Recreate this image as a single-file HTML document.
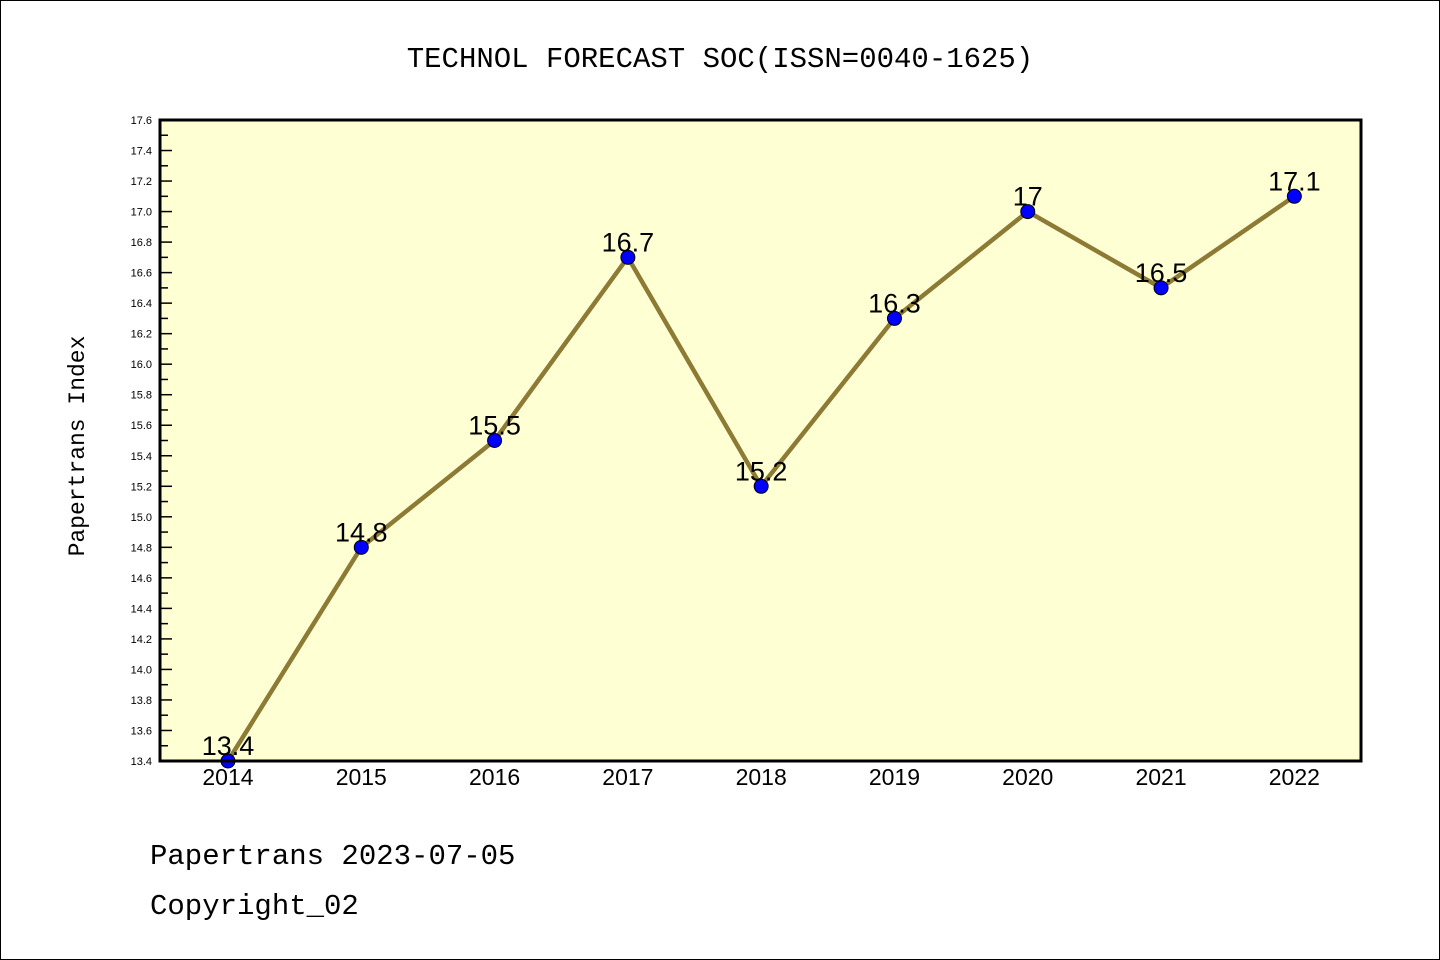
<!DOCTYPE html>
<html><head><meta charset="utf-8"><style>
html,body{margin:0;padding:0;background:#fff;}
svg{display:block;font-family:"Liberation Mono","DejaVu Sans Mono",monospace;}
</style></head><body>
<svg id="chart" width="1440" height="960" viewBox="0 0 1440 960" xmlns="http://www.w3.org/2000/svg">
<rect x="0.5" y="0.5" width="1439" height="959" fill="#fff" stroke="#000" stroke-width="1"/>
<text x="720" y="67" text-anchor="middle" font-size="29">TECHNOL FORECAST SOC(ISSN=0040-1625)</text>
<rect x="160" y="120" width="1201" height="641" fill="#ffffd4"/>
<g id="yaxis"></g>
<g id="xaxis"></g>
<g id="series"></g>
<rect x="160" y="120" width="1201" height="641" fill="none" stroke="#000" stroke-width="3"/>
<text transform="translate(84,446) rotate(-90)" text-anchor="middle" font-size="23">Papertrans Index</text>
<text x="150" y="864" font-size="29">Papertrans 2023-07-05</text>
<text x="150" y="914" font-size="29">Copyright_02</text>
</svg>
<script>
const years = [2014,2015,2016,2017,2018,2019,2020,2021,2022];
const values = [13.4,14.8,15.5,16.7,15.2,16.3,17.0,16.5,17.1];
const labels = ["13.4","14.8","15.5","16.7","15.2","16.3","17","16.5","17.1"];
const yTicks = [13.4,13.6,13.8,14.0,14.2,14.4,14.6,14.8,15.0,15.2,15.4,15.6,15.8,16.0,16.2,16.4,16.6,16.8,17.0,17.2,17.4,17.6];
const NS="http://www.w3.org/2000/svg";
const L=160,R=1361,T=120,B=761;
const xMin=2013.49,xMax=2022.5,yMin=13.4,yMax=17.6;
const xs=v=>L+(v-xMin)/(xMax-xMin)*(R-L);
const ys=v=>B-(v-yMin)/(yMax-yMin)*(B-T);
function mk(tag,attrs,parent){const e=document.createElementNS(NS,tag);for(const k in attrs)e.setAttribute(k,attrs[k]);parent.appendChild(e);return e;}
const ya=document.getElementById('yaxis'),xa=document.getElementById('xaxis'),sg=document.getElementById('series');
yTicks.forEach((t,i)=>{
  const y=ys(t);
  const tk=mk('line',{x1:L,x2:L+12,y1:y,y2:y,stroke:'#000','stroke-width':1.5},ya);
  
  
  if(i<yTicks.length-1){const ym=ys(t+0.1);
    const mt=mk('line',{x1:L,x2:L+8,y1:ym,y2:ym,stroke:'#000','stroke-width':1.5},ya);
    
    }
  const tx=mk('text',{x:L-8,y:y+4,'text-anchor':'end','font-size':11,'font-family':'Liberation Sans, sans-serif'},ya);
  tx.textContent=t.toFixed(1);
  
  
});
years.forEach(yr=>{
  const tx=mk('text',{x:xs(yr),y:B+24,'text-anchor':'middle','font-size':23,'font-family':'Liberation Sans, sans-serif'},xa);
  tx.textContent=String(yr);
  
  
});
const pts=years.map((yr,i)=>xs(yr)+','+ys(values[i])).join(' ');
const pl=mk('polyline',{points:pts,fill:'none',stroke:'#8c7a35','stroke-width':4.5,'stroke-linejoin':'round'},sg);


years.forEach((yr,i)=>{
  const c=mk('circle',{cx:xs(yr),cy:ys(values[i]),r:7,fill:'#0000ff',stroke:'#000','stroke-width':1},sg);
  
  
});
years.forEach((yr,i)=>{
  const t=mk('text',{x:xs(yr),y:ys(values[i])-6,'text-anchor':'middle','font-size':27,'font-family':'Liberation Sans, sans-serif'},sg);
  t.textContent=labels[i];
  
  
});
</script>
</body></html>
